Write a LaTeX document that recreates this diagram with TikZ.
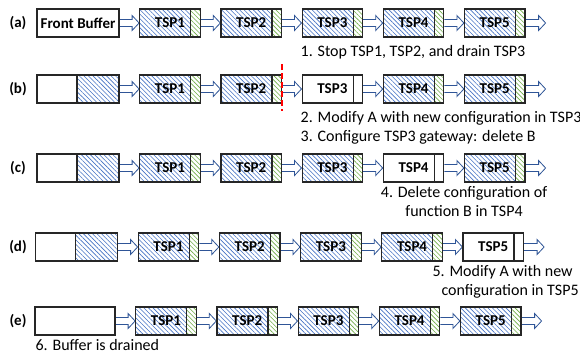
\documentclass[tikz,border=0pt]{standalone}
\usepackage{fontspec}
\setmainfont{Carlito}
\usetikzlibrary{positioning,calc,patterns.meta,backgrounds}
\definecolor{hatchblue}{HTML}{4472C4}
\definecolor{hatchgreen}{HTML}{70AD47}
\definecolor{arrowblue}{HTML}{2F5597}
\definecolor{boxgray}{HTML}{262626}

\begin{document}
\begin{tikzpicture}[
    x=1pt, y=-1pt,
    node distance=19.5pt,
    font=\fontsize{16}{18.5}\selectfont,
    box/.style={draw=boxgray, line width=1.2pt, minimum width=60.5pt, minimum height=28pt, inner sep=0pt, font=\fontsize{15}{18}\selectfont\bfseries},
    tsp/.style={box, pattern={Lines[angle=-45,distance=3.2pt,line width=0.6pt]}, pattern color=hatchblue,
      path picture={
        \fill[white] ([xshift=-9.5pt]path picture bounding box.north east) rectangle (path picture bounding box.south east);
        \fill[pattern={Lines[angle=-45,distance=3.2pt,line width=0.6pt]}, pattern color=hatchgreen] ([xshift=-9.5pt]path picture bounding box.north east) rectangle (path picture bounding box.south east);
        \draw[boxgray, line width=1.2pt] ([xshift=-9.5pt]path picture bounding box.north east) -- ([xshift=-9.5pt]path picture bounding box.south east);
      }},
    tspoff/.style={box, fill=white,
      path picture={
        \draw[boxgray, line width=1.2pt] ([xshift=-9.5pt]path picture bounding box.north east) -- ([xshift=-9.5pt]path picture bounding box.south east);
      }},
    tspat/.code 2 args={\ifnum#1=#2\relax\tikzset{tspoff}\else\tikzset{tsp}\fi},
    buf/.style={box, fill=white, minimum width=82pt},
    halfhatch/.style={
      path picture={
        \fill[pattern={Lines[angle=-45,distance=3.2pt,line width=0.6pt]}, pattern color=hatchblue] ([xshift=40pt]path picture bounding box.north west) rectangle (path picture bounding box.south east);
        \draw[boxgray, line width=1.2pt] ([xshift=40pt]path picture bounding box.north west) -- ([xshift=40pt]path picture bounding box.south west);
      }},
    tag/.style={font=\fontsize{15}{18}\selectfont\bfseries},
    note/.style={inner sep=0pt, anchor=north west, align=left},
    cut/.style={draw=red, line width=1.4pt, dash pattern=on 6pt off 3pt},
    flow/.style={draw=arrowblue, fill=white, line width=0.8pt, line join=miter,
      to path={let \p1=(\tikztostart), \p2=(\tikztotarget) in
        (\x1,\y1+3.5pt) -- (\x2-7pt,\y1+3.5pt) -- (\x2-7pt,\y1+7.5pt) -- (\x2,\y1)
        -- (\x2-7pt,\y1-7.5pt) -- (\x2-7pt,\y1-3.5pt) -- (\x1,\y1-3.5pt)}}
  ]
    \useasboundingbox (0,0) rectangle (580,354);

    % row labels and front buffers
    \node[tag] (la) at (18,23) {(a)};
    \node[buf] (a0) at (78,23) {Front Buffer};
    \node[tag] (lb) at (18,89) {(b)};
    \node[buf, halfhatch] (b0) at (78,89) {};
    \node[tag] (lc) at (18,168) {(c)};
    \node[buf, halfhatch] (c0) at (78,168) {};
    \node[tag] (ld) at (18,247) {(d)};
    \node[buf, halfhatch] (d0) at (76.5,247) {};
    \node[tag] (le) at (18,321) {(e)};
    \node[buf, minimum width=80pt] (e0) at (75,321) {};

    % TSP chains, one white TSP per row
    \foreach \r/\off in {a/0,b/3,c/4,d/5,e/0}
      \foreach \i [count=\k from 0] in {1,...,5}
        \node[tspat={\i}{\off}, right=of \r\k] (\r\i) {TSP\i};

    \begin{scope}[on background layer]
      \foreach \r in {a,...,e} {
        \foreach \i [count=\k from 0] in {1,...,5}
          \draw[flow] (\r\k.east) to (\r\i.west);
        \coordinate (\r6) at ([xshift=20pt]\r5.east);
        \draw[flow] (\r5.east) to (\r6);
      }
    \end{scope}

    \draw[cut] ([yshift=10pt]b2.north east) -- ([yshift=-7pt]b2.south east);

    % steps
    \node[note] (s1) at ([xshift=-1pt,yshift=-8pt]a3.south west) {1. Stop TSP1, TSP2, and drain TSP3};
    \node[note] (s2) at ([xshift=-1pt,yshift=-8pt]b3.south west) {2. Modify A with new configuration in TSP3\\3. Configure TSP3 gateway: delete B};
    \node[note, align=center] (s4) at ([xshift=-2pt,yshift=-4pt]c4.south west) {4. Delete configuration of\\function B in TSP4};
    \node[note] (s5) at ([xshift=-30pt,yshift=-4pt]d5.south west) {5. Modify A with new\\\hspace*{9pt}configuration in TSP5};
    \node[note] (s6) at ([xshift=1pt,yshift=-4pt]e0.south west) {6. Buffer is drained};
  \end{tikzpicture}
\end{document}
